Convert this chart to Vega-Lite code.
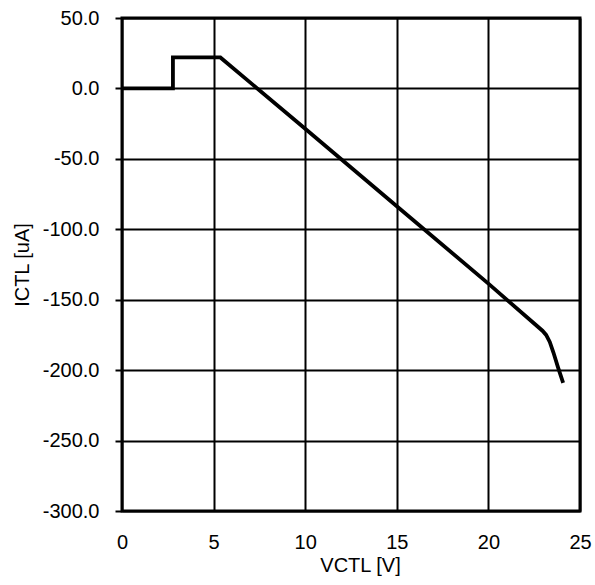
{
  "$schema": "https://vega.github.io/schema/vega-lite/v6.json",
  "width": 458,
  "height": 493,
  "autosize": {"type": "none"},
  "padding": {"left": 122, "top": 18, "right": 15, "bottom": 74},
  "background": "white",
  "config": {
    "font": "Liberation Sans",
    "view": {"stroke": "black", "strokeWidth": 3},
    "axis": {
      "labelFont": "Liberation Sans",
      "titleFont": "Liberation Sans",
      "labelFontSize": 20,
      "titleFontSize": 20,
      "titleFontWeight": "normal",
      "labelColor": "black",
      "titleColor": "black",
      "gridColor": "black",
      "gridWidth": 2,
      "gridOpacity": 1,
      "domain": false
    }
  },
  "data": {
    "values": [
      {"v": 0, "i": 0},
      {"v": 2.78, "i": 0},
      {"v": 2.78, "i": 22},
      {"v": 5.37, "i": 22},
      {"v": 10, "i": -28.6},
      {"v": 15, "i": -83.6},
      {"v": 20, "i": -138.6},
      {"v": 22.95, "i": -172},
      {"v": 23.15, "i": -175},
      {"v": 23.35, "i": -180},
      {"v": 23.55, "i": -187.5},
      {"v": 23.8, "i": -198},
      {"v": 24.08, "i": -209}
    ]
  },
  "mark": {"type": "line", "color": "black", "strokeWidth": 3.8, "strokeJoin": "miter"},
  "encoding": {
    "x": {
      "field": "v",
      "type": "quantitative",
      "scale": {"domain": [0, 25], "nice": false},
      "axis": {
        "title": "VCTL [V]",
        "values": [0, 5, 10, 15, 20, 25],
        "ticks": false,
        "labelPadding": 21,
        "titlePadding": 3,
        "titleX": 238,
        "labelFlush": false
      }
    },
    "y": {
      "field": "i",
      "type": "quantitative",
      "scale": {"domain": [-300, 50], "nice": false, "zero": false},
      "axis": {
        "title": "ICTL [uA]",
        "values": [50, 0, -50, -100, -150, -200, -250, -300],
        "labelExpr": "replace(format(datum.value, '.1f'), '\u2212', '-')",
        "tickColor": "black",
        "tickSize": 7,
        "tickWidth": 2,
        "labelPadding": 16,
        "titlePadding": 10,
        "labelFlush": false
      }
    },
    "order": {"field": "v", "type": "quantitative"}
  }
}
